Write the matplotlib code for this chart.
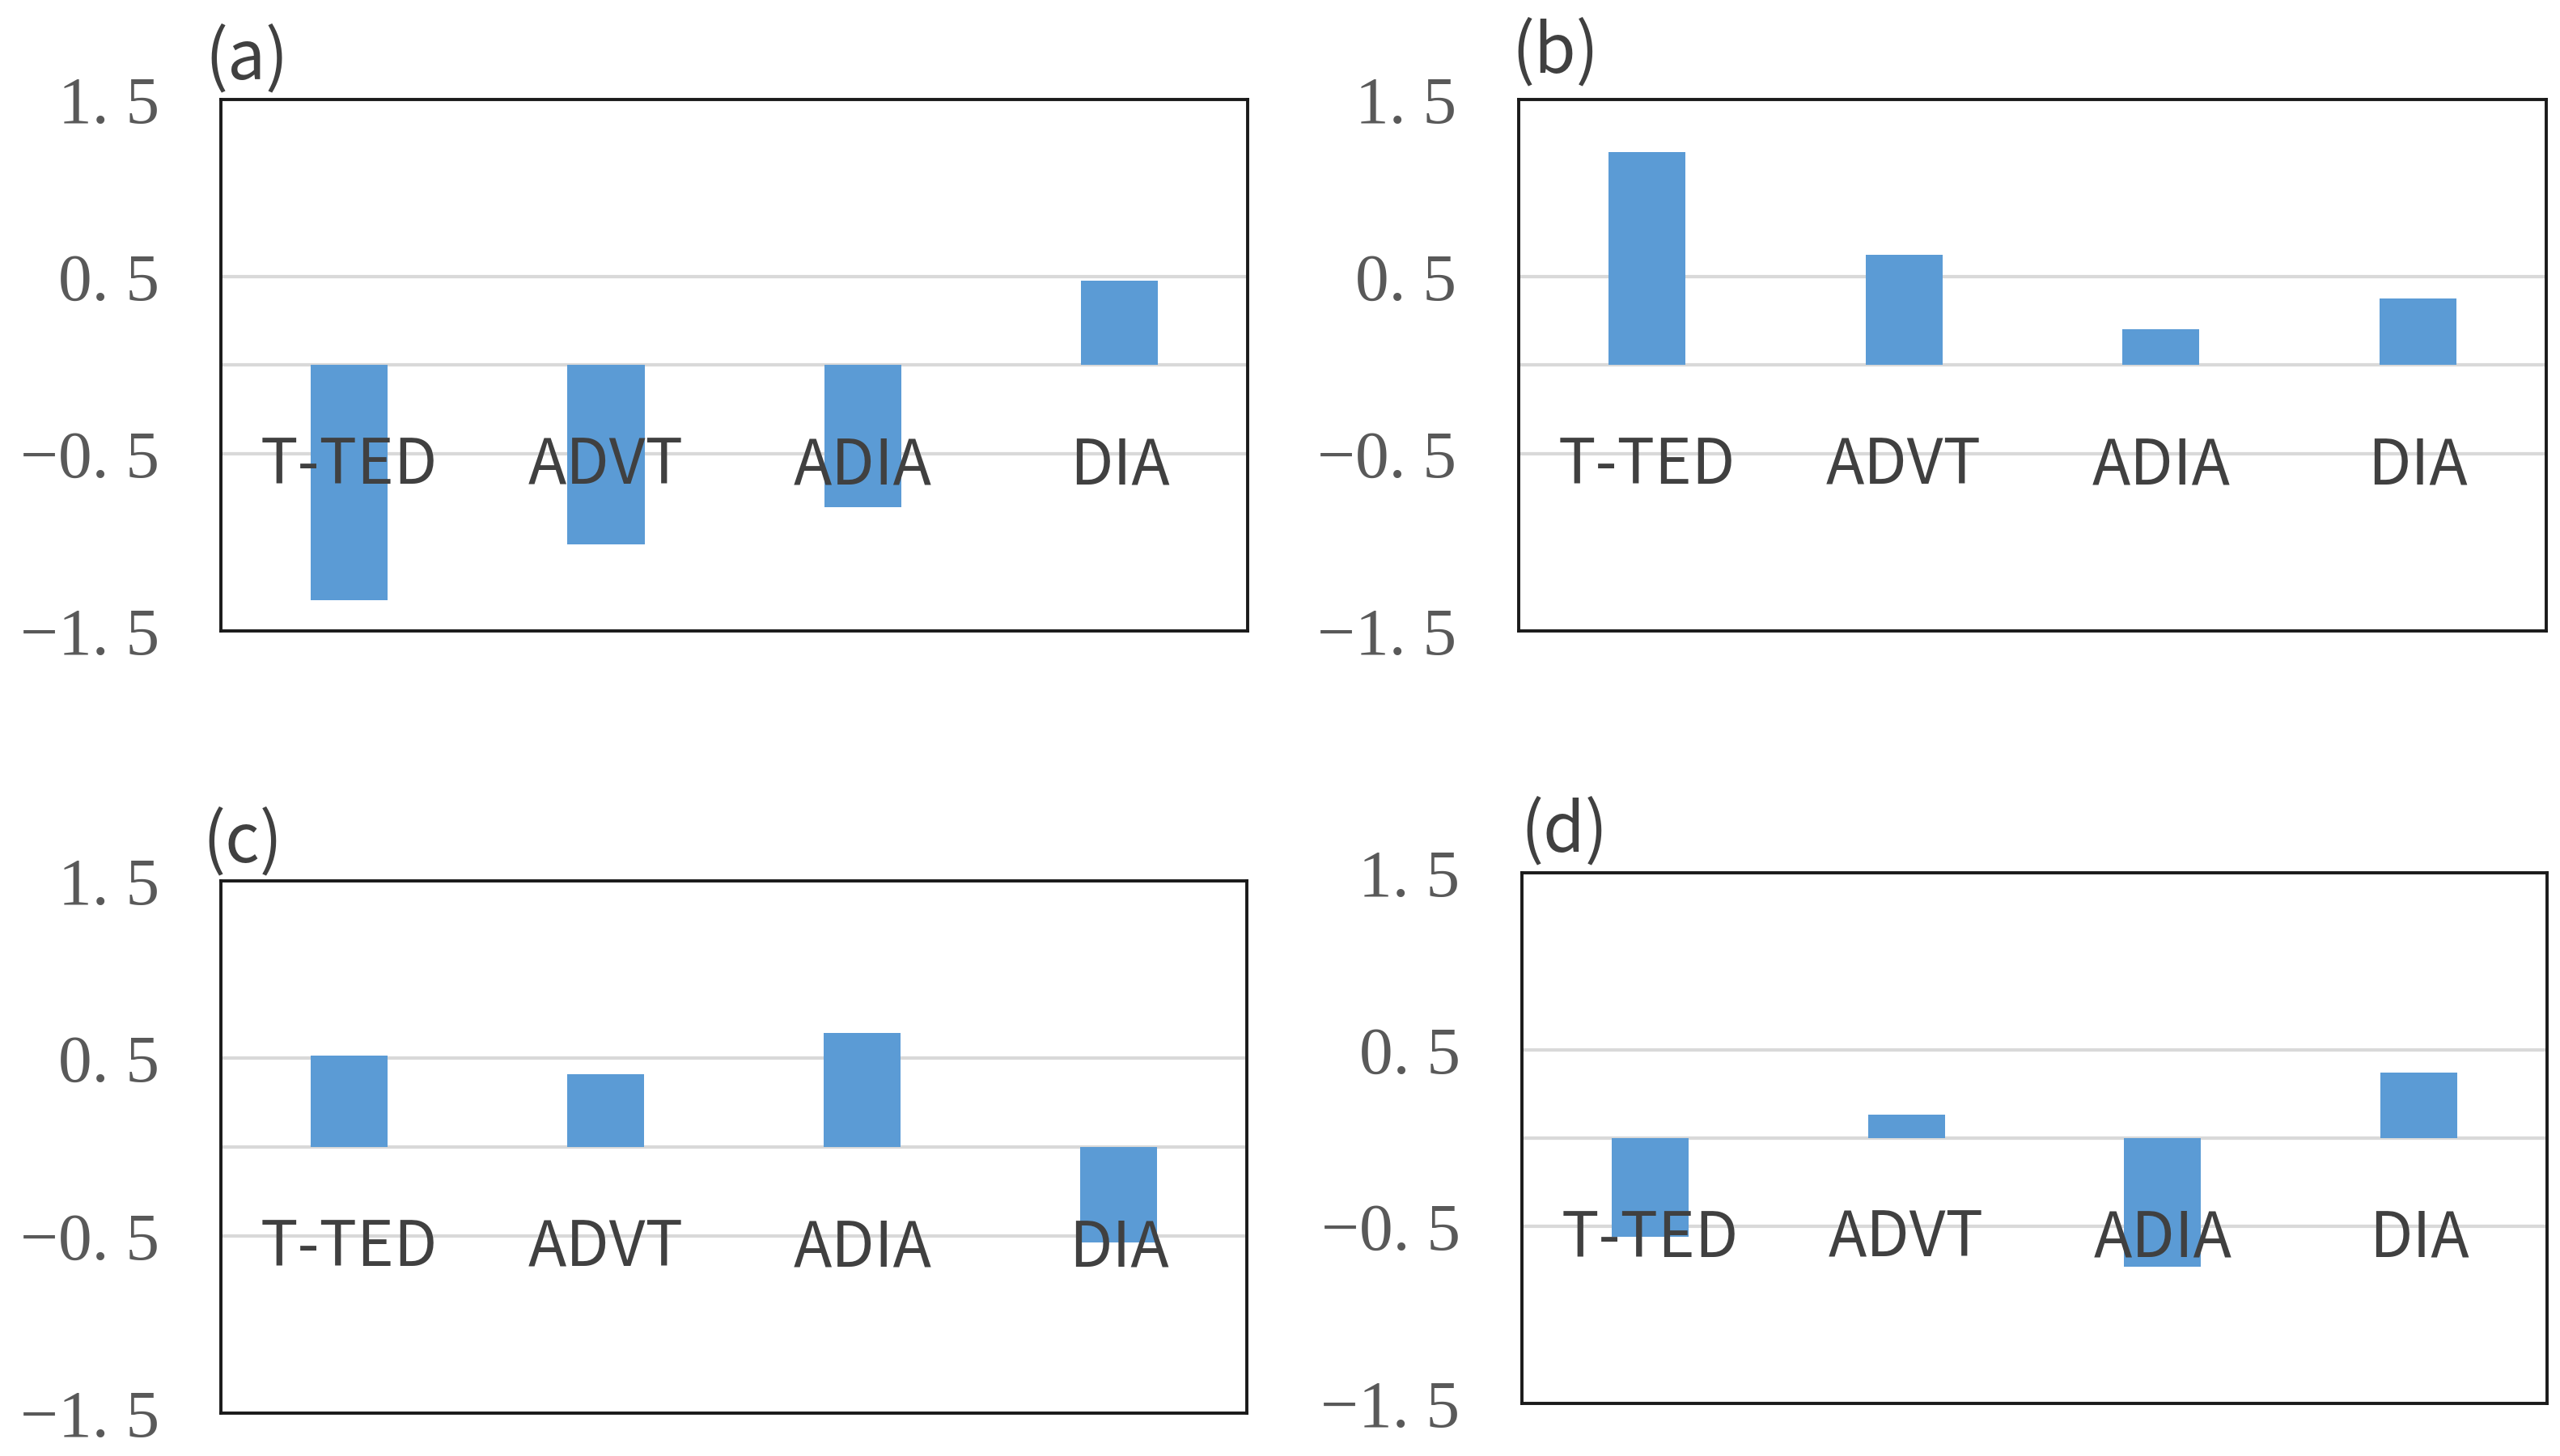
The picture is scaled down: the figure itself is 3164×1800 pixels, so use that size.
import matplotlib
matplotlib.use("Agg")
import matplotlib.pyplot as plt

categories = ["T-TED", "ADVT", "ADIA", "DIA"]
values_a = [-1.325, -1.01, -0.80, 0.475]
values_b = [1.205, 0.622, 0.204, 0.378]
values_c = [0.517, 0.41, 0.643, -0.538]
values_d = [-0.56, 0.134, -0.728, 0.372]
panel_labels = ["(a)", "(b)", "(c)", "(d)"]
ytick_values = [1.5, 0.5, -0.5, -1.5]
ytick_labels = ["1. 5", "0. 5", "\u22120. 5", "\u22121. 5"]

W, H = 3164, 1800
fig = plt.figure(figsize=(W / 100, H / 100), dpi=100)
fig.patch.set_facecolor("white")

rects = [
    (0.0863, 0.5667, 0.4011, 0.3650),
    (0.5932, 0.5667, 0.4014, 0.3650),
    (0.0863, 0.0294, 0.4008, 0.3656),
    (0.5945, 0.0361, 0.4004, 0.3644),
]
label_offsets = [(-14, 18), (-6, 24), (-16, 17), (-1, 19)]
series = [values_a, values_b, values_c, values_d]

bar_color = "#5B9BD5"
grid_color = "#D9D9D9"
text_color = "#404040"
tick_color = "#595959"

for rect, vals, plabel, off in zip(rects, series, panel_labels, label_offsets):
    ax = fig.add_axes(rect)
    x = list(range(len(categories)))
    ax.bar(x, vals, width=0.30, color=bar_color, zorder=3)
    ax.set_xlim(-0.5, len(categories) - 0.5)
    ax.set_ylim(-1.5, 1.5)
    ax.set_yticks(ytick_values)
    ax.set_yticklabels(ytick_labels, family=["Liberation Serif", "DejaVu Serif"],
                       fontsize=60, color=tick_color)
    ax.tick_params(axis="y", length=0, pad=55)
    ax.set_xticks([])
    for yv in ytick_values:
        ax.axhline(yv, color=grid_color, lw=3.0, zorder=1)
    ax.axhline(0, color=grid_color, lw=3.0, zorder=2)
    for sp in ax.spines.values():
        sp.set_color("#1a1a1a")
        sp.set_linewidth(2.8)
        sp.set_zorder(5)
    for i, cat in enumerate(categories):
        ax.text(i, -0.67, cat, ha="center", va="baseline", fontsize=56,
                family=["Noto Sans CJK JP", "DejaVu Sans"], color=text_color, zorder=6)
    ax.annotate(plabel, xy=(0, 1), xycoords="axes fraction",
                xytext=off, textcoords="offset points",
                ha="left", va="baseline", fontsize=60,
                family=["Noto Sans CJK JP", "DejaVu Sans"], color=text_color,
                annotation_clip=False)

fig.savefig("out.png", dpi=100, facecolor="white")
